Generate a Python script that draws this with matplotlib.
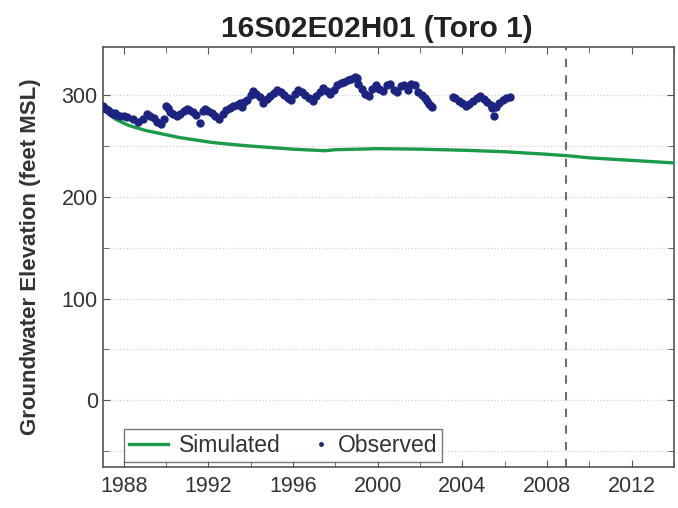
import numpy as np
import matplotlib.pyplot as plt
from matplotlib.ticker import MultipleLocator
from matplotlib.legend_handler import HandlerLine2D

plt.rcParams['font.family'] = ['Liberation Sans', 'DejaVu Sans']

# ----------------- Data -----------------

well_name = "16S02E02H01 (Toro 1)"

# simulated head (decimal year, feet MSL)
sim_year = [1987.0, 1987.3, 1987.6, 1988.2, 1989.0, 1990.6, 1992.2, 1993.7,
            1996.0, 1997.5, 1998.0, 2000.0, 2002.0, 2004.0, 2006.0, 2008.0,
            2009.0, 2010.0, 2012.0, 2014.0]
sim_level = [288, 281, 276, 270, 265, 258, 253, 250,
             246.5, 245, 246, 247, 246.5, 245.5, 244, 241.5,
             240, 238, 235.5, 233]

# observed water levels
obs_year = [
    1987.00, 1987.08, 1987.17, 1987.25, 1987.33, 1987.42, 1987.50, 1987.58,
    1987.67, 1987.83, 1988.00, 1988.17, 1988.42, 1988.67, 1988.92, 1989.08,
    1989.25, 1989.42, 1989.58, 1989.75, 1989.92, 1990.00, 1990.08, 1990.17,
    1990.33, 1990.50, 1990.67, 1990.83, 1991.00, 1991.08, 1991.25, 1991.42,
    1991.58, 1991.75, 1991.83, 1992.00, 1992.17, 1992.33, 1992.50, 1992.67,
    1992.83, 1993.00, 1993.17, 1993.33, 1993.50, 1993.58, 1993.67, 1993.83,
    1994.00, 1994.08, 1994.25, 1994.42, 1994.58, 1994.75, 1994.92, 1995.08,
    1995.25, 1995.42, 1995.58, 1995.75, 1995.92, 1996.08, 1996.25, 1996.42,
    1996.58, 1996.75, 1996.92, 1997.08, 1997.25, 1997.42, 1997.58, 1997.75,
    1997.92, 1998.08, 1998.25, 1998.42, 1998.58, 1998.75, 1998.92, 1999.00,
    1999.08, 1999.25, 1999.42, 1999.58, 1999.75, 1999.92, 2000.08, 2000.25,
    2000.42, 2000.58, 2000.75, 2000.92, 2001.08, 2001.25, 2001.42, 2001.58,
    2001.75, 2001.92, 2002.08, 2002.25, 2002.33, 2002.42, 2002.50, 2002.58,
    2003.58, 2003.67, 2003.83, 2004.00, 2004.17, 2004.33, 2004.50, 2004.67,
    2004.83, 2005.00, 2005.17, 2005.33, 2005.42, 2005.50, 2005.58, 2005.75,
    2005.92, 2006.08, 2006.25,
]
obs_level = [
    289, 287, 286, 285, 283, 282, 281, 282,
    280, 279, 279, 278, 276, 273, 276, 281,
    279, 277, 273, 271, 276, 289, 287, 283,
    281, 279, 281, 284, 286, 285, 283, 280,
    272, 284, 286, 284, 282, 279, 276, 281,
    285, 287, 289, 290, 292, 288, 293, 295,
    300, 304, 301, 298, 292, 296, 299, 302,
    305, 303, 300, 297, 295, 301, 305, 303,
    300, 297, 294, 299, 303, 307, 304, 301,
    305, 309, 311, 312, 314, 315, 317, 316,
    310, 306, 301, 299, 306, 309, 306, 304,
    309, 310, 305, 303, 308, 309, 305, 310,
    309, 303, 300, 297, 294, 291, 289, 288,
    298, 297, 294, 292, 289, 291, 294, 297,
    299, 296, 293, 290, 287, 279, 288, 292,
    295, 297, 298,
]

pred_start = 2008.9


class DotAtRight(HandlerLine2D):
    """Legend handler that draws the single marker next to its label."""
    def get_xdata(self, legend, xdescent, ydescent, width, height, fontsize):
        right = -xdescent + width
        xdata = np.array([right - 8, right])
        return xdata, xdata


# ----------------- Plot -----------------

fig = plt.figure(figsize=(6.78, 5.08), dpi=100)
ax = fig.add_axes([0.1515, 0.0813, 0.8425, 0.8267])

sim_line, = ax.plot(sim_year, sim_level, color='#1a9a4a', lw=2.4,
                    label='Simulated', zorder=3)
obs_pts, = ax.plot(obs_year, obs_level, 'o', color='#1c247f', ms=5,
                   mec='#1c247f', label='Observed', zorder=4)
ax.axvline(pred_start, color='#707070', lw=1.5, ls=(0, (4, 4)), zorder=2)

ax.set_xlim(1987.0, 2014.0)
ax.set_ylim(-65, 347)
ax.xaxis.set_major_locator(MultipleLocator(4))
ax.xaxis.set_minor_locator(MultipleLocator(2))
ax.yaxis.set_major_locator(MultipleLocator(100))
ax.yaxis.set_minor_locator(MultipleLocator(50))
ax.grid(which='both', axis='y', color='#d0d0d0', ls=':', lw=0.9)
ax.tick_params(which='both', direction='in', top=True, right=True,
               color='#555555', labelsize=15.5, labelcolor='#333333')
ax.tick_params(which='major', length=5)
ax.tick_params(which='minor', length=4)
ax.tick_params(axis='x', pad=7)
for s in ax.spines.values():
    s.set_color('#555555')
    s.set_linewidth(1.2)

ax.set_title(well_name, fontsize=21.5, fontweight='bold', color='#222222',
             pad=7, x=0.48)
ax.set_ylabel('Groundwater Elevation (feet MSL)', fontsize=16,
              fontweight='bold', color='#333333', labelpad=15)

leg = ax.legend([sim_line, obs_pts], ['Simulated', 'Observed'],
                handler_map={obs_pts: DotAtRight(numpoints=1)},
                loc='lower left', ncol=2, fontsize=16.5, frameon=True,
                fancybox=False, edgecolor='#555555', markerscale=0.5,
                handlelength=1.7, handletextpad=0.48, columnspacing=0.3,
                borderpad=0.22, borderaxespad=0,
                bbox_to_anchor=(0.037, 0.011))
leg.get_frame().set_linewidth(1.0)
for t in leg.get_texts():
    t.set_color('#333333')

fig.savefig('out.png', dpi=100)
